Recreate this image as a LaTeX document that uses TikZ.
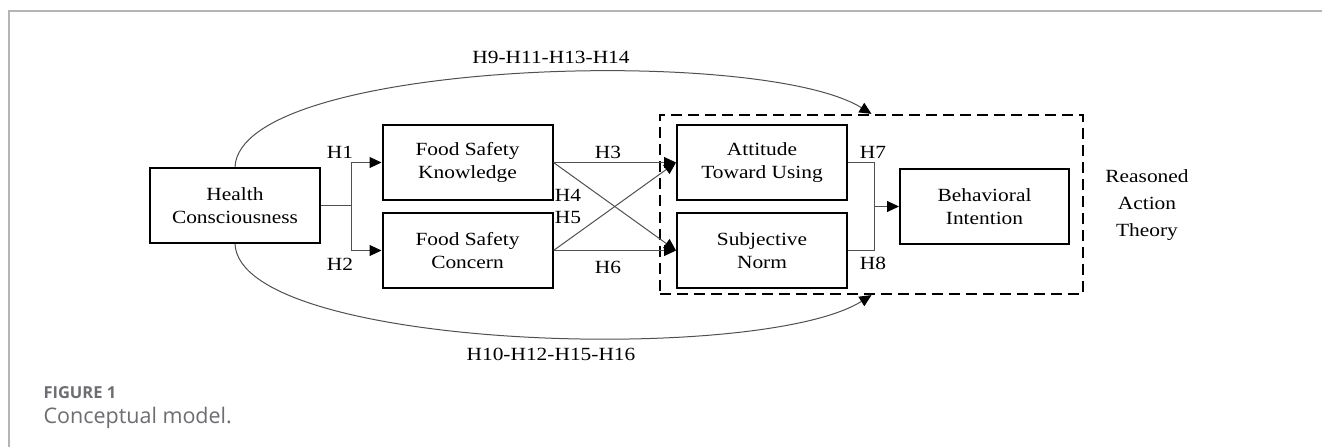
\documentclass[tikz,border=0pt]{standalone}
\usepackage{fontspec}
\setmainfont{Liberation Serif}[FakeStretch=1.15]
\newfontfamily\captionfont{Open Sans}
\usetikzlibrary{arrows.meta}

\definecolor{framegray}{HTML}{B4B4B4}
\definecolor{captiongray}{HTML}{6D6E71}
\definecolor{linkgray}{HTML}{505050}

\begin{document}
\begin{tikzpicture}[x=1pt,y=-1pt,
  every node/.style={font=\fontsize{18.6}{23.3}\selectfont},
  construct/.style={draw,line width=2pt,minimum width=170pt,minimum height=75pt,align=center,inner sep=0pt},
  link/.style={draw=linkgray,line width=1pt},
  arrowlink/.style={link,-{Triangle[length=12pt,width=11pt,color=black]}},
  caption/.style={anchor=west,text=captiongray}]
  \useasboundingbox[fill=white] (0,0) rectangle (1322,447);
  \draw[framegray,line width=1.5pt] (9,447) -- (9,11) -- (1322,11);

  % constructs
  \node[construct] (health) at (235,205.5) {Health\\Consciousness};
  \node[construct] (fsk) at (467.5,162.5) {Food Safety\\Knowledge};
  \node[construct] (fsc) at (467.5,250.5) {Food Safety\\Concern};
  \node[construct] (atu) at (762,162.5) {Attitude\\Toward Using};
  \node[construct] (sn) at (762,250.5) {Subjective\\Norm};
  \node[construct,minimum width=169pt] (bi) at (984.5,206.5) {Behavioral\\Intention};
  \node[draw,line width=2.2pt,dash pattern=on 11pt off 6pt,minimum width=423pt,minimum height=179pt] (rat) at (871.5,204.5) {};
  \node[align=center,font=\fontsize{18.6}{27}\selectfont] (ratlabel) at (1147,205) {Reasoned\\Action\\Theory};

  % H1, H2
  \coordinate (hb) at (351,205.5);
  \draw[link] (health.east) -- (hb);
  \draw[arrowlink] (hb) |- (fsk.west);
  \draw[arrowlink] (hb) |- (fsc.west);

  % H3 - H6
  \draw[arrowlink] (fsk.east) -- (atu.west);
  \draw[arrowlink] (fsk.east) -- (sn.west);
  \draw[arrowlink] (fsc.east) -- (atu.west);
  \draw[arrowlink] (fsc.east) -- (sn.west);

  % H7, H8
  \coordinate (tb) at (874,206.5);
  \draw[link] (atu.east) -| (tb);
  \draw[link] (sn.east) -| (tb);
  \draw[arrowlink] (tb) -- (bi.west);

  % indirect paths
  \draw[arrowlink] (health.north) .. controls (240,60) and (760,45) .. (rat.north);
  \draw[arrowlink] (health.south) .. controls (240,350) and (760,365) .. (rat.south);

  % labels
  \node (h1) at (340,152) {H1};
  \node (h2) at (340,264) {H2};
  \node (h3) at (608,152) {H3};
  \node (h4) at (568,195) {H4};
  \node (h5) at (568,217) {H5};
  \node (h6) at (608,267) {H6};
  \node (h7) at (873,152) {H7};
  \node (h8) at (873,263) {H8};
  \node (top) at (551,57) {H9-H11-H13-H14};
  \node (bottom) at (551,354) {H10-H12-H15-H16};

  \node[caption,font=\captionfont\bfseries\fontsize{16.5}{20}\selectfont] (fig) at (40,393) {FIGURE 1};
  \node[caption,font=\captionfont\fontsize{21.5}{26}\selectfont] (cap) at (40,418) {Conceptual model.};
\end{tikzpicture}
\end{document}
